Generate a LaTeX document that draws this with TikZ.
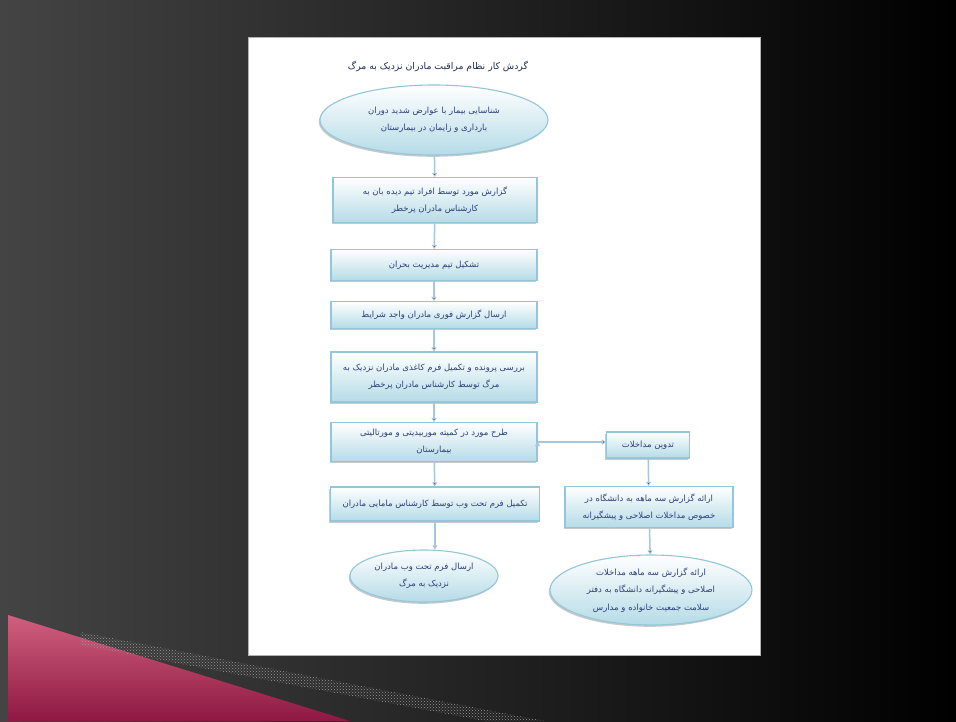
\documentclass[tikz,border=0pt]{standalone}
\usepackage{fontspec}
\newfontfamily\farsi[Script=Arabic]{DejaVu Sans}
\TeXXeTstate=1
\usetikzlibrary{positioning, arrows.meta, shapes.geometric, shadows, patterns}

\definecolor{boxfill}{HTML}{B5DBE7}
\definecolor{boxline}{HTML}{93C6D8}
\definecolor{arrowblue}{HTML}{A6C6DD}
\definecolor{textblue}{HTML}{2E3F78}
\definecolor{bgleft}{HTML}{444444}
\definecolor{crimson}{HTML}{8E1842}
\definecolor{pinklight}{HTML}{D0607F}

\newcommand{\rtlline}[1]{\beginR #1\endR}

\begin{document}
\begin{tikzpicture}
	[x=1pt, y=-1pt,
	 flow/.style={draw=boxline, line width=1.1pt, top color=white, bottom color=boxfill,
	   text=textblue, font=\farsi\fontsize{8.5}{17.5}\selectfont, align=center, inner sep=2pt,
	   drop shadow={shadow xshift=-1.2pt, shadow yshift=-1.8pt, fill=gray!70, opacity=.6}},
	 stepbox/.style={flow, rectangle},
	 endpoint/.style={flow, ellipse},
	 link/.style={draw=arrowblue, line width=1.5pt, -{Triangle[width=5pt,length=4pt]}}]
   % slide background
   \useasboundingbox (0,0) rectangle (956,721);
   \shade[left color=bgleft, right color=black] (0,0) rectangle (956,721);
   \shade[top color=pinklight, bottom color=crimson] (8,615) -- (350,721) -- (8,721) -- cycle;
   \fill[pattern=crosshatch dots, pattern color=gray!80] (80,632) -- (545,721) -- (485,721) -- (80,645) -- cycle;
   % page
   \fill[white, draw=gray!60] (248,37) rectangle (760,655);
   \node[text=textblue!70!black, font=\farsi\fontsize{9.3}{10}\selectfont] (title) at (438,66)
        {\rtlline{گردش کار نظام مراقبت مادران نزدیک به مرگ}};
   % main column
   \node[endpoint, minimum width=228, minimum height=70] (s_1) at (434,120)
        {\rtlline{شناسایی بیمار با عوارض شدید دوران}\\\rtlline{بارداری و زایمان در بیمارستان}};
   \node[stepbox, minimum width=204, minimum height=45] (s_2) at (435,200)
        {\rtlline{گزارش مورد توسط افراد تیم دیده بان به}\\\rtlline{کارشناس مادران پرخطر}};
   \node[stepbox, minimum width=206, minimum height=31] (s_3) at (434,265)
        {\rtlline{تشکیل تیم مدیریت بحران}};
   \node[stepbox, minimum width=206, minimum height=27] (s_4) at (434,315)
        {\rtlline{ارسال گزارش فوری مادران واجد شرایط}};
   \node[stepbox, minimum width=206, minimum height=50] (s_5) at (434,377)
        {\rtlline{بررسی پرونده و تکمیل فرم کاغذی مادران نزدیک به}\\\rtlline{مرگ توسط کارشناس مادران پرخطر}};
   \node[stepbox, minimum width=206, minimum height=39] (s_6) at (434,442)
        {\rtlline{طرح مورد در کمیته موربیدیتی و مورتالیتی}\\\rtlline{بیمارستان}};
   \node[stepbox, minimum width=209, minimum height=34] (s_7) at (435,504)
        {\rtlline{تکمیل فرم تحت وب توسط کارشناس مامایی مادران}};
   \node[endpoint, minimum width=148, minimum height=52] (s_8) at (424,576)
        {\rtlline{ارسال فرم تحت وب مادران}\\\rtlline{نزدیک به مرگ}};
   % side column
   \node[stepbox, minimum width=83, minimum height=26] (r_1) at (648,445)
        {\rtlline{تدوین مداخلات}};
   \node[stepbox, minimum width=168, minimum height=41] (r_2) at (649,507)
        {\rtlline{ارائه گزارش سه ماهه به دانشگاه در}\\\rtlline{خصوص مداخلات اصلاحی و پیشگیرانه}};
   \node[endpoint, minimum width=202, minimum height=70] (r_3) at (651,590)
        {\rtlline{ارائه گزارش سه ماهه مداخلات}\\\rtlline{اصلاحی و پیشگیرانه دانشگاه به دفتر}\\\rtlline{سلامت جمعیت خانواده و مدارس}};
    \path[link]
    (s_1) edge (s_2)
    (s_2) edge (s_3)
    (s_3) edge (s_4)
    (s_4) edge (s_5)
    (s_5) edge (s_6)
    (s_6) edge (s_7)
    (s_6.east) edge (r_1.west |- s_6.east)
    (r_1) edge (r_2)
    (r_2) edge (r_3);
    \draw[link] (s_7.south) -- (s_8.north -| s_7.south);
\end{tikzpicture}
\end{document}
